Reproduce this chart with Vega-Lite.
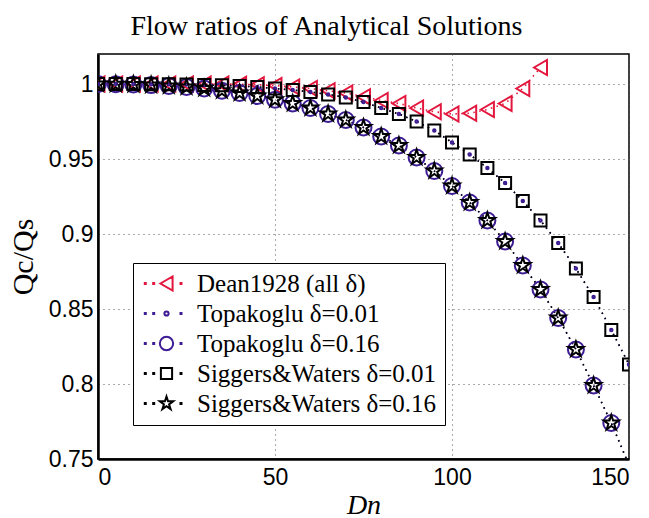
{
  "$schema": "https://vega.github.io/schema/vega-lite/v6.json",
  "autosize": "none",
  "width": 531,
  "height": 405,
  "padding": {"left": 98, "top": 54, "right": 20, "bottom": 59},
  "background": "white",
  "title": {"text": "Flow ratios of Analytical Solutions", "font": "Liberation Serif", "fontSize": 28, "fontWeight": "normal", "color": "black", "anchor": "middle", "dx": -37, "offset": 13},
  "config": {
    "view": {"stroke": "black", "strokeWidth": 1.5},
    "axis": {"domainColor": "black", "domainWidth": 2.5, "ticks": false, "grid": true, "gridColor": "#555", "gridDash": [1, 4], "gridWidth": 1, "gridOpacity": 1, "labelFont": "Liberation Sans", "labelFontSize": 23, "labelColor": "black", "titleFont": "Liberation Serif", "titleFontSize": 28, "titleFontWeight": "normal", "titleColor": "black"}
  },
  "resolve": {"scale": {"shape": "independent"}, "legend": {"color": "independent", "shape": "independent"}},
  "data": {"values": [
    {"series": "Dean1928 (all δ)", "Dn": 0, "Q": 1.0},
    {"series": "Dean1928 (all δ)", "Dn": 5, "Q": 1.0},
    {"series": "Dean1928 (all δ)", "Dn": 10, "Q": 1.0},
    {"series": "Dean1928 (all δ)", "Dn": 15, "Q": 1.0},
    {"series": "Dean1928 (all δ)", "Dn": 20, "Q": 1.0},
    {"series": "Dean1928 (all δ)", "Dn": 25, "Q": 1.0},
    {"series": "Dean1928 (all δ)", "Dn": 30, "Q": 1.0},
    {"series": "Dean1928 (all δ)", "Dn": 35, "Q": 1.0},
    {"series": "Dean1928 (all δ)", "Dn": 40, "Q": 0.9998},
    {"series": "Dean1928 (all δ)", "Dn": 45, "Q": 0.9995},
    {"series": "Dean1928 (all δ)", "Dn": 50, "Q": 0.999},
    {"series": "Dean1928 (all δ)", "Dn": 55, "Q": 0.998},
    {"series": "Dean1928 (all δ)", "Dn": 60, "Q": 0.997},
    {"series": "Dean1928 (all δ)", "Dn": 65, "Q": 0.9955},
    {"series": "Dean1928 (all δ)", "Dn": 70, "Q": 0.994},
    {"series": "Dean1928 (all δ)", "Dn": 75, "Q": 0.9915},
    {"series": "Dean1928 (all δ)", "Dn": 80, "Q": 0.989},
    {"series": "Dean1928 (all δ)", "Dn": 85, "Q": 0.987},
    {"series": "Dean1928 (all δ)", "Dn": 90, "Q": 0.984},
    {"series": "Dean1928 (all δ)", "Dn": 95, "Q": 0.9815},
    {"series": "Dean1928 (all δ)", "Dn": 100, "Q": 0.98},
    {"series": "Dean1928 (all δ)", "Dn": 105, "Q": 0.9805},
    {"series": "Dean1928 (all δ)", "Dn": 110, "Q": 0.983},
    {"series": "Dean1928 (all δ)", "Dn": 115, "Q": 0.987},
    {"series": "Dean1928 (all δ)", "Dn": 120, "Q": 0.997},
    {"series": "Dean1928 (all δ)", "Dn": 125, "Q": 1.011},

    {"series": "Topakoglu δ=0.01", "Dn": 0, "Q": 1.0},
    {"series": "Topakoglu δ=0.01", "Dn": 5, "Q": 1.0},
    {"series": "Topakoglu δ=0.01", "Dn": 10, "Q": 1.0},
    {"series": "Topakoglu δ=0.01", "Dn": 15, "Q": 0.9999},
    {"series": "Topakoglu δ=0.01", "Dn": 20, "Q": 0.9998},
    {"series": "Topakoglu δ=0.01", "Dn": 25, "Q": 0.9996},
    {"series": "Topakoglu δ=0.01", "Dn": 30, "Q": 0.9994},
    {"series": "Topakoglu δ=0.01", "Dn": 35, "Q": 0.9991},
    {"series": "Topakoglu δ=0.01", "Dn": 40, "Q": 0.9987},
    {"series": "Topakoglu δ=0.01", "Dn": 45, "Q": 0.998},
    {"series": "Topakoglu δ=0.01", "Dn": 50, "Q": 0.997},
    {"series": "Topakoglu δ=0.01", "Dn": 55, "Q": 0.996},
    {"series": "Topakoglu δ=0.01", "Dn": 60, "Q": 0.9947},
    {"series": "Topakoglu δ=0.01", "Dn": 65, "Q": 0.993},
    {"series": "Topakoglu δ=0.01", "Dn": 70, "Q": 0.991},
    {"series": "Topakoglu δ=0.01", "Dn": 75, "Q": 0.988},
    {"series": "Topakoglu δ=0.01", "Dn": 80, "Q": 0.984},
    {"series": "Topakoglu δ=0.01", "Dn": 85, "Q": 0.98},
    {"series": "Topakoglu δ=0.01", "Dn": 90, "Q": 0.975},
    {"series": "Topakoglu δ=0.01", "Dn": 95, "Q": 0.969},
    {"series": "Topakoglu δ=0.01", "Dn": 100, "Q": 0.961},
    {"series": "Topakoglu δ=0.01", "Dn": 105, "Q": 0.953},
    {"series": "Topakoglu δ=0.01", "Dn": 110, "Q": 0.944},
    {"series": "Topakoglu δ=0.01", "Dn": 115, "Q": 0.934},
    {"series": "Topakoglu δ=0.01", "Dn": 120, "Q": 0.922},
    {"series": "Topakoglu δ=0.01", "Dn": 125, "Q": 0.909},
    {"series": "Topakoglu δ=0.01", "Dn": 130, "Q": 0.894},
    {"series": "Topakoglu δ=0.01", "Dn": 135, "Q": 0.877},
    {"series": "Topakoglu δ=0.01", "Dn": 140, "Q": 0.858},
    {"series": "Topakoglu δ=0.01", "Dn": 145, "Q": 0.836},
    {"series": "Topakoglu δ=0.01", "Dn": 150, "Q": 0.813},

    {"series": "Topakoglu δ=0.16", "Dn": 0, "Q": 1.0},
    {"series": "Topakoglu δ=0.16", "Dn": 5, "Q": 0.9999},
    {"series": "Topakoglu δ=0.16", "Dn": 10, "Q": 0.9997},
    {"series": "Topakoglu δ=0.16", "Dn": 15, "Q": 0.9993},
    {"series": "Topakoglu δ=0.16", "Dn": 20, "Q": 0.9987},
    {"series": "Topakoglu δ=0.16", "Dn": 25, "Q": 0.998},
    {"series": "Topakoglu δ=0.16", "Dn": 30, "Q": 0.997},
    {"series": "Topakoglu δ=0.16", "Dn": 35, "Q": 0.9955},
    {"series": "Topakoglu δ=0.16", "Dn": 40, "Q": 0.994},
    {"series": "Topakoglu δ=0.16", "Dn": 45, "Q": 0.992},
    {"series": "Topakoglu δ=0.16", "Dn": 50, "Q": 0.9895},
    {"series": "Topakoglu δ=0.16", "Dn": 55, "Q": 0.987},
    {"series": "Topakoglu δ=0.16", "Dn": 60, "Q": 0.984},
    {"series": "Topakoglu δ=0.16", "Dn": 65, "Q": 0.98},
    {"series": "Topakoglu δ=0.16", "Dn": 70, "Q": 0.976},
    {"series": "Topakoglu δ=0.16", "Dn": 75, "Q": 0.971},
    {"series": "Topakoglu δ=0.16", "Dn": 80, "Q": 0.965},
    {"series": "Topakoglu δ=0.16", "Dn": 85, "Q": 0.959},
    {"series": "Topakoglu δ=0.16", "Dn": 90, "Q": 0.951},
    {"series": "Topakoglu δ=0.16", "Dn": 95, "Q": 0.942},
    {"series": "Topakoglu δ=0.16", "Dn": 100, "Q": 0.932},
    {"series": "Topakoglu δ=0.16", "Dn": 105, "Q": 0.921},
    {"series": "Topakoglu δ=0.16", "Dn": 110, "Q": 0.909},
    {"series": "Topakoglu δ=0.16", "Dn": 115, "Q": 0.895},
    {"series": "Topakoglu δ=0.16", "Dn": 120, "Q": 0.879},
    {"series": "Topakoglu δ=0.16", "Dn": 125, "Q": 0.863},
    {"series": "Topakoglu δ=0.16", "Dn": 130, "Q": 0.844},
    {"series": "Topakoglu δ=0.16", "Dn": 135, "Q": 0.823},
    {"series": "Topakoglu δ=0.16", "Dn": 140, "Q": 0.799},
    {"series": "Topakoglu δ=0.16", "Dn": 145, "Q": 0.774},
    {"series": "Topakoglu δ=0.16", "Dn": 150, "Q": 0.746},

    {"series": "Siggers&Waters δ=0.01", "Dn": 0, "Q": 1.0},
    {"series": "Siggers&Waters δ=0.01", "Dn": 5, "Q": 1.0},
    {"series": "Siggers&Waters δ=0.01", "Dn": 10, "Q": 1.0},
    {"series": "Siggers&Waters δ=0.01", "Dn": 15, "Q": 0.9999},
    {"series": "Siggers&Waters δ=0.01", "Dn": 20, "Q": 0.9998},
    {"series": "Siggers&Waters δ=0.01", "Dn": 25, "Q": 0.9996},
    {"series": "Siggers&Waters δ=0.01", "Dn": 30, "Q": 0.9994},
    {"series": "Siggers&Waters δ=0.01", "Dn": 35, "Q": 0.9991},
    {"series": "Siggers&Waters δ=0.01", "Dn": 40, "Q": 0.9987},
    {"series": "Siggers&Waters δ=0.01", "Dn": 45, "Q": 0.998},
    {"series": "Siggers&Waters δ=0.01", "Dn": 50, "Q": 0.997},
    {"series": "Siggers&Waters δ=0.01", "Dn": 55, "Q": 0.996},
    {"series": "Siggers&Waters δ=0.01", "Dn": 60, "Q": 0.9947},
    {"series": "Siggers&Waters δ=0.01", "Dn": 65, "Q": 0.993},
    {"series": "Siggers&Waters δ=0.01", "Dn": 70, "Q": 0.991},
    {"series": "Siggers&Waters δ=0.01", "Dn": 75, "Q": 0.988},
    {"series": "Siggers&Waters δ=0.01", "Dn": 80, "Q": 0.984},
    {"series": "Siggers&Waters δ=0.01", "Dn": 85, "Q": 0.98},
    {"series": "Siggers&Waters δ=0.01", "Dn": 90, "Q": 0.975},
    {"series": "Siggers&Waters δ=0.01", "Dn": 95, "Q": 0.969},
    {"series": "Siggers&Waters δ=0.01", "Dn": 100, "Q": 0.961},
    {"series": "Siggers&Waters δ=0.01", "Dn": 105, "Q": 0.953},
    {"series": "Siggers&Waters δ=0.01", "Dn": 110, "Q": 0.944},
    {"series": "Siggers&Waters δ=0.01", "Dn": 115, "Q": 0.934},
    {"series": "Siggers&Waters δ=0.01", "Dn": 120, "Q": 0.922},
    {"series": "Siggers&Waters δ=0.01", "Dn": 125, "Q": 0.909},
    {"series": "Siggers&Waters δ=0.01", "Dn": 130, "Q": 0.894},
    {"series": "Siggers&Waters δ=0.01", "Dn": 135, "Q": 0.877},
    {"series": "Siggers&Waters δ=0.01", "Dn": 140, "Q": 0.858},
    {"series": "Siggers&Waters δ=0.01", "Dn": 145, "Q": 0.836},
    {"series": "Siggers&Waters δ=0.01", "Dn": 150, "Q": 0.813},

    {"series": "Siggers&Waters δ=0.16", "Dn": 0, "Q": 1.0},
    {"series": "Siggers&Waters δ=0.16", "Dn": 5, "Q": 0.9999},
    {"series": "Siggers&Waters δ=0.16", "Dn": 10, "Q": 0.9997},
    {"series": "Siggers&Waters δ=0.16", "Dn": 15, "Q": 0.9993},
    {"series": "Siggers&Waters δ=0.16", "Dn": 20, "Q": 0.9987},
    {"series": "Siggers&Waters δ=0.16", "Dn": 25, "Q": 0.998},
    {"series": "Siggers&Waters δ=0.16", "Dn": 30, "Q": 0.997},
    {"series": "Siggers&Waters δ=0.16", "Dn": 35, "Q": 0.9955},
    {"series": "Siggers&Waters δ=0.16", "Dn": 40, "Q": 0.994},
    {"series": "Siggers&Waters δ=0.16", "Dn": 45, "Q": 0.992},
    {"series": "Siggers&Waters δ=0.16", "Dn": 50, "Q": 0.9895},
    {"series": "Siggers&Waters δ=0.16", "Dn": 55, "Q": 0.987},
    {"series": "Siggers&Waters δ=0.16", "Dn": 60, "Q": 0.984},
    {"series": "Siggers&Waters δ=0.16", "Dn": 65, "Q": 0.98},
    {"series": "Siggers&Waters δ=0.16", "Dn": 70, "Q": 0.976},
    {"series": "Siggers&Waters δ=0.16", "Dn": 75, "Q": 0.971},
    {"series": "Siggers&Waters δ=0.16", "Dn": 80, "Q": 0.965},
    {"series": "Siggers&Waters δ=0.16", "Dn": 85, "Q": 0.959},
    {"series": "Siggers&Waters δ=0.16", "Dn": 90, "Q": 0.951},
    {"series": "Siggers&Waters δ=0.16", "Dn": 95, "Q": 0.942},
    {"series": "Siggers&Waters δ=0.16", "Dn": 100, "Q": 0.932},
    {"series": "Siggers&Waters δ=0.16", "Dn": 105, "Q": 0.921},
    {"series": "Siggers&Waters δ=0.16", "Dn": 110, "Q": 0.909},
    {"series": "Siggers&Waters δ=0.16", "Dn": 115, "Q": 0.895},
    {"series": "Siggers&Waters δ=0.16", "Dn": 120, "Q": 0.879},
    {"series": "Siggers&Waters δ=0.16", "Dn": 125, "Q": 0.863},
    {"series": "Siggers&Waters δ=0.16", "Dn": 130, "Q": 0.844},
    {"series": "Siggers&Waters δ=0.16", "Dn": 135, "Q": 0.823},
    {"series": "Siggers&Waters δ=0.16", "Dn": 140, "Q": 0.799},
    {"series": "Siggers&Waters δ=0.16", "Dn": 145, "Q": 0.774},
    {"series": "Siggers&Waters δ=0.16", "Dn": 150, "Q": 0.746}
  ]},
  "encoding": {
    "x": {"field": "Dn", "type": "quantitative", "scale": {"domain": [0, 150], "nice": false}, "axis": {"values": [0, 50, 100, 150], "title": "Dn", "titleFontStyle": "italic", "labelPadding": 7, "titlePadding": 2}},
    "y": {"field": "Q", "type": "quantitative", "scale": {"domain": [0.75, 1.02], "nice": false, "zero": false}, "axis": {"values": [0.75, 0.8, 0.85, 0.9, 0.95, 1.0], "format": "~g", "title": "Qc/Qs", "titleFontSize": 30, "labelPadding": 5, "titlePadding": 10}}
  },
  "layer": [
    {
      "mark": {"type": "line", "strokeDash": [1.5, 4.5], "strokeWidth": 1.6, "clip": true},
      "encoding": {
        "color": {"field": "series", "type": "nominal", "scale": {"domain": ["Dean1928 (all δ)", "Topakoglu δ=0.01", "Topakoglu δ=0.16", "Siggers&Waters δ=0.01", "Siggers&Waters δ=0.16"], "range": ["#e3173e", "#3d1c94", "#3d1c94", "#000000", "#000000"]}, "legend": null},
        "order": {"field": "Dn", "type": "quantitative"}
      }
    },
    {
      "transform": [{"filter": "datum.Q >= 0.75"}],
      "mark": {"type": "point", "filled": false, "strokeWidth": 2, "opacity": 1, "clip": true},
      "encoding": {
        "color": {"field": "series", "type": "nominal", "legend": null},
        "shape": {"field": "series", "type": "nominal", "scale": {"type": "ordinal", "domain": ["Dean1928 (all δ)", "Topakoglu δ=0.01", "Topakoglu δ=0.16", "Siggers&Waters δ=0.01", "Siggers&Waters δ=0.16"], "range": ["triangle-left", "circle", "circle", "square", "M0,-1L0.2245,-0.309L0.951,-0.309L0.363,0.118L0.588,0.809L0,0.382L-0.588,0.809L-0.363,0.118L-0.951,-0.309L-0.2245,-0.309Z"]}, "legend": null},
        "size": {"field": "series", "type": "nominal", "scale": {"type": "ordinal", "domain": ["Dean1928 (all δ)", "Topakoglu δ=0.01", "Topakoglu δ=0.16", "Siggers&Waters δ=0.01", "Siggers&Waters δ=0.16"], "range": [225, 6, 256, 144, 256]}, "legend": null}
      }
    },
    {
      "transform": [{"filter": "datum.Dn < 0"}],
      "mark": {"type": "point", "filled": false, "strokeWidth": 2, "opacity": 1},
      "encoding": {
        "color": {"field": "series", "type": "nominal",
          "legend": {
            "title": null, "orient": "none", "legendX": 35, "legendY": 209,
            "fillColor": "white", "strokeColor": "black", "padding": 8,
            "labelFont": "Liberation Serif", "labelFontSize": 25, "labelColor": "black", "labelLimit": 400,
            "symbolSize": 196, "symbolStrokeWidth": 2, "symbolOffset": 13, "labelOffset": 18, "rowPadding": 4
          }
        },
        "shape": {"field": "series", "type": "nominal",
          "scale": {"type": "ordinal", "domain": ["Dean1928 (all δ)", "Topakoglu δ=0.01", "Topakoglu δ=0.16", "Siggers&Waters δ=0.01", "Siggers&Waters δ=0.16"],
            "range": [
              "M-3.1,-0.07h0.14v0.14h-0.14ZM-1.9,-0.07h0.14v0.14h-0.14ZM2,-0.07h0.14v0.14h-0.14ZM-0.87,0L0.87,-1L0.87,1Z",
              "M-3.1,-0.07h0.14v0.14h-0.14ZM-1.9,-0.07h0.14v0.14h-0.14ZM2,-0.07h0.14v0.14h-0.14ZM-0.3,0a0.3,0.3 0 1,0 0.6,0a0.3,0.3 0 1,0 -0.6,0Z",
              "M-3.1,-0.07h0.14v0.14h-0.14ZM-1.9,-0.07h0.14v0.14h-0.14ZM2,-0.07h0.14v0.14h-0.14ZM-0.95,0a0.95,0.95 0 1,0 1.9,0a0.95,0.95 0 1,0 -1.9,0Z",
              "M-3.1,-0.07h0.14v0.14h-0.14ZM-1.9,-0.07h0.14v0.14h-0.14ZM2,-0.07h0.14v0.14h-0.14ZM-0.8,-0.8h1.6v1.6h-1.6Z",
              "M-3.1,-0.07h0.14v0.14h-0.14ZM-1.9,-0.07h0.14v0.14h-0.14ZM2,-0.07h0.14v0.14h-0.14ZM0,-1L0.2245,-0.309L0.951,-0.309L0.363,0.118L0.588,0.809L0,0.382L-0.588,0.809L-0.363,0.118L-0.951,-0.309L-0.2245,-0.309Z"
            ]},
          "legend": {
            "title": null, "orient": "none", "legendX": 35, "legendY": 209,
            "fillColor": "white", "strokeColor": "black", "padding": 8,
            "labelFont": "Liberation Serif", "labelFontSize": 25, "labelColor": "black", "labelLimit": 400,
            "symbolSize": 196, "symbolStrokeWidth": 2, "symbolOffset": 13, "labelOffset": 18, "rowPadding": 4
          }
        }
      }
    }
  ]
}
